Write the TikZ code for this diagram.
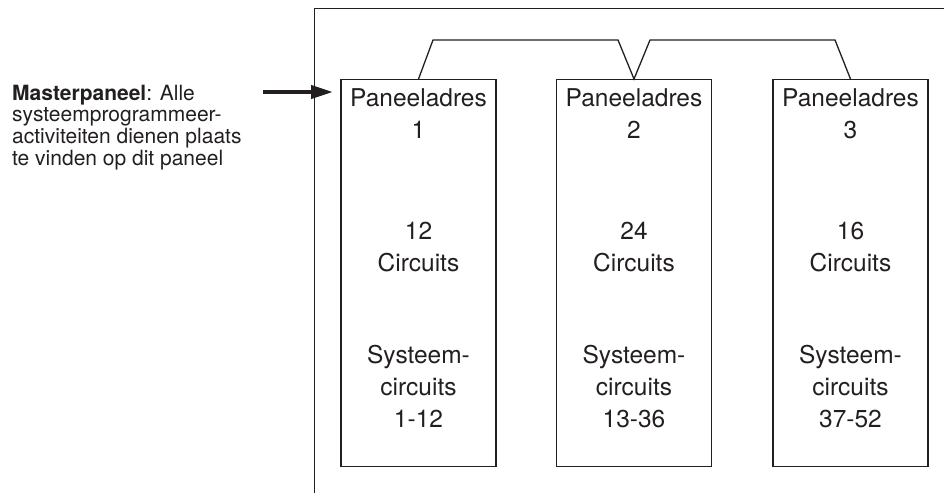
\documentclass[tikz,border=0pt]{standalone}
\usepackage{fontspec}
\setmainfont{TeX Gyre Heros}
\usetikzlibrary{arrows.meta}
\definecolor{ink}{HTML}{231F20}
\begin{document}
\begin{tikzpicture}[x=1pt,y=-1pt,
  line/.style={draw=ink,line width=1.3pt},
  panel/.style={line, rectangle, minimum width=155pt, minimum height=387pt, inner sep=0pt, anchor=north},
  boxtxt/.style={anchor=base, inner sep=0pt, text=ink, font=\fontsize{24.5}{30}\selectfont},
  sidetxt/.style={anchor=base west, inner sep=0pt, text=ink, font=\fontsize{21}{22}\selectfont}]
\useasboundingbox (0,0) rectangle (944,493);
% outer frame
\coordinate (fbot) at (314.5,493);
\coordinate (ftop) at (314.5,8.5);
\coordinate (fright) at (944,8.5);
\draw[line] (fbot) -- (ftop) -- (fright);
% panels
\node[panel] (b1) at (418.5,79) {};
\node[panel] (b2) at (634,79) {};
\node[panel] (b3) at (850.5,79) {};
% bracket connecting the panels
\coordinate (k1) at (433,40);
\coordinate (k2) at (618,40);
\coordinate (k3) at (650,40);
\coordinate (k4) at (835,40);
\draw[line] (b1.north) -- (k1) -- (k2) -- (b2.north) -- (k3) -- (k4) -- (b3.north);
% panel texts
\node[boxtxt] (p1a) at (418.5,106) {Paneeladres};
\node[boxtxt] (p1b) at (418.5,138) {1};
\node[boxtxt] (p1c) at (418.5,239) {12};
\node[boxtxt] (p1d) at (418.5,271) {Circuits};
\node[boxtxt] (p1e) at (418.5,363) {Systeem-};
\node[boxtxt] (p1f) at (418.5,395) {circuits};
\node[boxtxt] (p1g) at (418.5,427) {1-12};
\node[boxtxt] (p2a) at (634,106) {Paneeladres};
\node[boxtxt] (p2b) at (634,138) {2};
\node[boxtxt] (p2c) at (634,239) {24};
\node[boxtxt] (p2d) at (634,271) {Circuits};
\node[boxtxt] (p2e) at (634,363) {Systeem-};
\node[boxtxt] (p2f) at (634,395) {circuits};
\node[boxtxt] (p2g) at (634,427) {13-36};
\node[boxtxt] (p3a) at (850.5,106) {Paneeladres};
\node[boxtxt] (p3b) at (850.5,138) {3};
\node[boxtxt] (p3c) at (850.5,239) {16};
\node[boxtxt] (p3d) at (850.5,271) {Circuits};
\node[boxtxt] (p3e) at (850.5,363) {Systeem-};
\node[boxtxt] (p3f) at (850.5,395) {circuits};
\node[boxtxt] (p3g) at (850.5,427) {37-52};
% side label
\node[sidetxt] (s1) at (12,100) {\textbf{Masterpaneel}: Alle};
\node[sidetxt] (s2) at (12,121.7) {systeemprogrammeer-};
\node[sidetxt] (s3) at (12,143.4) {activiteiten dienen plaats};
\node[sidetxt] (s4) at (12,165.1) {te vinden op dit paneel};
% arrow
\coordinate (as) at (263,92);
\coordinate (at) at (333,92);
\draw[ink, line width=4pt, -{Triangle[length=22pt,width=13pt]}] (as) -- (at);
\end{tikzpicture}
\end{document}
